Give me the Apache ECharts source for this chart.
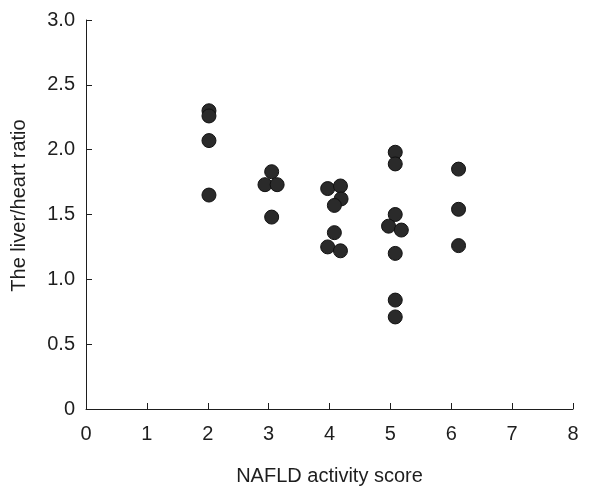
<!DOCTYPE html>
<html>
<head>
<meta charset="utf-8">
<script src="https://cdn.jsdelivr.net/npm/echarts@6/dist/echarts.min.js"></script>
<style>
  html, body { margin: 0; padding: 0; background: #fff; }
  #chart { width: 590px; height: 491px; }
</style>
</head>
<body>
<div id="chart"></div>
<script>
// NAFLD activity score (slightly jittered as in the figure)
const activityScore = [
  2.02, 2.02, 2.02, 2.02,
  3.05, 2.94, 3.14, 3.05,
  3.97, 4.18, 4.19, 4.08, 4.08, 3.97, 4.18,
  5.08, 5.08, 5.08, 4.97, 5.18, 5.08, 5.08, 5.08,
  6.12, 6.12, 6.12
];
// liver/heart ratio
const liverHeartRatio = [
  2.30, 2.26, 2.07, 1.65,
  1.83, 1.73, 1.73, 1.48,
  1.70, 1.72, 1.62, 1.57, 1.36, 1.25, 1.22,
  1.98, 1.89, 1.50, 1.41, 1.38, 1.20, 0.84, 0.71,
  1.85, 1.54, 1.26
];
const xTicks = [0, 1, 2, 3, 4, 5, 6, 7, 8];
const yTicks = [0, 0.5, 1.0, 1.5, 2.0, 2.5, 3.0];

const points = activityScore.map((x, i) => [x, liverHeartRatio[i]]);
const font = '"Liberation Sans", Arial, sans-serif';
const ink = '#1e1e1e';

const chart = echarts.init(document.getElementById('chart'));
chart.setOption({
  animation: false,
  grid: { left: 86, right: 17, top: 20, bottom: 80 },
  xAxis: {
    type: 'value',
    min: xTicks[0],
    max: xTicks[xTicks.length - 1],
    interval: 1,
    name: 'NAFLD activity score',
    nameLocation: 'middle',
    nameGap: 57,
    nameTextStyle: { fontFamily: font, fontSize: 20, color: ink },
    axisLine: { lineStyle: { color: ink, width: 1 } },
    axisTick: { inside: true, length: 6, lineStyle: { color: ink } },
    axisLabel: { fontFamily: font, fontSize: 20, color: ink, margin: 15 },
    splitLine: { show: false }
  },
  yAxis: {
    type: 'value',
    min: yTicks[0],
    max: yTicks[yTicks.length - 1],
    interval: 0.5,
    name: 'The liver/heart ratio',
    nameLocation: 'middle',
    nameGap: 57,
    nameTextStyle: { fontFamily: font, fontSize: 20, color: ink, padding: [0, 0, 0, 18] },
    axisLine: { show: true, lineStyle: { color: ink, width: 1 } },
    axisTick: { show: true, inside: true, length: 6, lineStyle: { color: ink } },
    axisLabel: {
      fontFamily: font, fontSize: 20, color: ink, margin: 11,
      formatter: v => (v === 0 ? '0' : v.toFixed(1))
    },
    splitLine: { show: false }
  },
  series: [{
    type: 'scatter',
    data: points,
    symbol: 'circle',
    symbolSize: 14,
    itemStyle: { color: '#2a2a2a', borderColor: '#111', borderWidth: 1, opacity: 1 }
  }]
});
</script>
</body>
</html>
